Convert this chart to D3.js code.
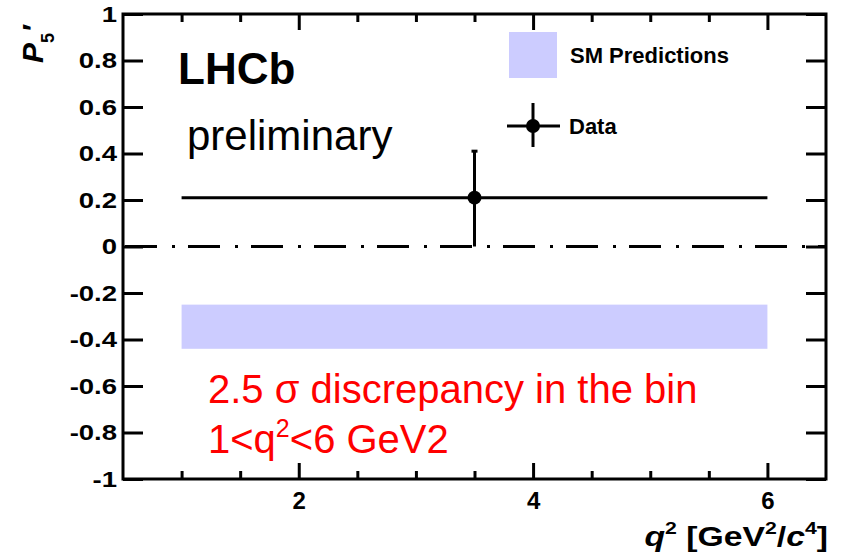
<!DOCTYPE html>
<html>
<head>
<meta charset="utf-8">
<script src="https://cdn.jsdelivr.net/npm/d3@7"></script>
<style>
  html, body { margin: 0; padding: 0; background: #fff; }
  svg { display: block; font-family: "Liberation Sans", Arial, Helvetica, sans-serif; }
</style>
</head>
<body>
<svg id="chart" width="841" height="557"></svg>
<script>
// P5' measurement in the 1 < q^2 < 6 GeV^2/c^4 bin
const q2Domain = [0.5, 6.5];
const p5Domain = [-1, 1];

const xMajorTicks = [2, 4, 6];
const xMinorTicks = [1, 1.5, 2.5, 3, 3.5, 4.5, 5, 5.5];
const yTicks = [-1, -0.8, -0.6, -0.4, -0.2, 0, 0.2, 0.4, 0.6, 0.8, 1];
const yTickLabels = ["-1", "-0.8", "-0.6", "-0.4", "-0.2", "0", "0.2", "0.4", "0.6", "0.8", "1"];

// measured bin
const binLow = [1];
const binHigh = [6];
const binCenter = [3.5];
const p5Value = [0.21];
const p5ErrUp = [0.20];
const p5ErrDown = [0.21];

// Standard Model band for the same bin
const smLow = [-0.44];
const smHigh = [-0.25];

const svg = d3.select("#chart");
const plotLeft = 123, plotRight = 826, plotTop = 14, plotBottom = 479;

const x = d3.scaleLinear().domain(q2Domain).range([plotLeft, plotRight]);
const y = d3.scaleLinear().domain(p5Domain).range([plotBottom, plotTop]);

// SM prediction band
svg.selectAll("rect.sm").data(smLow).enter().append("rect")
  .attr("class", "sm")
  .attr("x", (d, i) => x(binLow[i]))
  .attr("width", (d, i) => x(binHigh[i]) - x(binLow[i]))
  .attr("y", (d, i) => y(smHigh[i]))
  .attr("height", (d, i) => y(d) - y(smHigh[i]))
  .attr("fill", "#ccccff");

// zero line, dash-dot
svg.append("line")
  .attr("x1", x(q2Domain[0])).attr("x2", x(q2Domain[1]))
  .attr("y1", y(0)).attr("y2", y(0))
  .attr("stroke", "#000").attr("stroke-width", 3)
  .attr("stroke-dasharray", "32,15,3,13")
  .attr("stroke-dashoffset", 61);

// data point with horizontal bin width and vertical errors
const pts = svg.append("g");
p5Value.forEach((v, i) => {
  pts.append("line")
    .attr("x1", x(binLow[i])).attr("x2", x(binHigh[i]))
    .attr("y1", y(v)).attr("y2", y(v))
    .attr("stroke", "#000").attr("stroke-width", 3);
  pts.append("line")
    .attr("x1", x(binCenter[i])).attr("x2", x(binCenter[i]))
    .attr("y1", y(v + p5ErrUp[i])).attr("y2", y(v - p5ErrDown[i]))
    .attr("stroke", "#000").attr("stroke-width", 3);
  pts.append("line")
    .attr("x1", x(binCenter[i]) - 3).attr("x2", x(binCenter[i]) + 3)
    .attr("y1", y(v + p5ErrUp[i])).attr("y2", y(v + p5ErrUp[i]))
    .attr("stroke", "#000").attr("stroke-width", 3);
  pts.append("circle")
    .attr("cx", x(binCenter[i])).attr("cy", y(v)).attr("r", 7)
    .attr("fill", "#000");
});

// axes; the y tick labels use a horizontally widened bold face
const yLabelStretch = 1.25;
const yAxisL = d3.axisLeft(y).tickValues(yTicks)
  .tickFormat((d, i) => yTickLabels[i]).tickSizeInner(-20).tickSizeOuter(0).tickPadding(6);
svg.append("g").attr("transform", `translate(${plotLeft},0)`).call(yAxisL)
  .call(g => g.select(".domain").remove())
  .call(g => g.selectAll("line").attr("stroke-width", 3))
  .call(g => g.selectAll("text")
    .attr("font-size", 22).attr("font-weight", "bold").attr("fill", "#000")
    .attr("x", -6 / yLabelStretch)
    .attr("transform", `scale(${yLabelStretch},1)`));

const yAxisR = d3.axisRight(y).tickValues(yTicks).tickFormat("")
  .tickSizeInner(-20).tickSizeOuter(0);
svg.append("g").attr("transform", `translate(${plotRight},0)`).call(yAxisR)
  .call(g => g.select(".domain").remove())
  .call(g => g.selectAll("line").attr("stroke-width", 3));

const xAxisB = d3.axisBottom(x).tickValues(xMajorTicks).tickFormat(d3.format("d"))
  .tickSizeInner(-16).tickSizeOuter(0).tickPadding(13);
svg.append("g").attr("transform", `translate(0,${plotBottom})`).call(xAxisB)
  .call(g => g.select(".domain").remove())
  .call(g => g.selectAll("line").attr("stroke-width", 3))
  .call(g => g.selectAll("text").attr("font-size", 24).attr("font-weight", "bold").attr("fill", "#000"));

const xAxisBMinor = d3.axisBottom(x).tickValues(xMinorTicks).tickFormat("")
  .tickSizeInner(-8).tickSizeOuter(0);
svg.append("g").attr("transform", `translate(0,${plotBottom})`).call(xAxisBMinor)
  .call(g => g.select(".domain").remove())
  .call(g => g.selectAll("line").attr("stroke-width", 3));

const xAxisT = d3.axisTop(x).tickValues(xMajorTicks).tickFormat("")
  .tickSizeInner(-16).tickSizeOuter(0);
svg.append("g").attr("transform", `translate(0,${plotTop})`).call(xAxisT)
  .call(g => g.select(".domain").remove())
  .call(g => g.selectAll("line").attr("stroke-width", 3));

const xAxisTMinor = d3.axisTop(x).tickValues(xMinorTicks).tickFormat("")
  .tickSizeInner(-8).tickSizeOuter(0);
svg.append("g").attr("transform", `translate(0,${plotTop})`).call(xAxisTMinor)
  .call(g => g.select(".domain").remove())
  .call(g => g.selectAll("line").attr("stroke-width", 3));

// frame
svg.append("rect")
  .attr("x", plotLeft).attr("y", plotTop)
  .attr("width", plotRight - plotLeft).attr("height", plotBottom - plotTop)
  .attr("fill", "none").attr("stroke", "#000").attr("stroke-width", 3);

// axis titles
const xt = svg.append("text")
  .attr("transform", "translate(828,546) scale(1.25,1)")
  .attr("text-anchor", "end")
  .attr("font-size", 27).attr("font-weight", "bold").attr("fill", "#000");
xt.append("tspan").attr("font-style", "italic").text("q");
xt.append("tspan").attr("font-size", 17).attr("dy", -12).text("2");
xt.append("tspan").attr("dy", 12).text(" [GeV");
xt.append("tspan").attr("font-size", 17).attr("dy", -12).text("2");
xt.append("tspan").attr("dy", 12).text("/");
xt.append("tspan").attr("font-style", "italic").text("c");
xt.append("tspan").attr("font-size", 17).attr("dy", -12).text("4");
xt.append("tspan").attr("dy", 12).text("]");

const yt = svg.append("text")
  .attr("transform", "translate(43,63) rotate(-90)")
  .attr("font-size", 30).attr("font-weight", "bold").attr("fill", "#000");
yt.append("tspan").attr("font-style", "italic").text("P");
yt.append("tspan").attr("font-size", 18).attr("dy", 11).text("5");
yt.append("tspan").attr("dy", -11).attr("dx", 2).text("′");

// experiment labels
svg.append("text").attr("x", 178).attr("y", 84)
  .attr("font-size", 44).attr("font-weight", "bold").attr("fill", "#000").text("LHCb");
svg.append("text").attr("x", 187).attr("y", 150)
  .attr("font-size", 42).attr("fill", "#000").text("preliminary");

// legend
const legend = svg.append("g");
legend.append("rect").attr("x", 509).attr("y", 32).attr("width", 48).attr("height", 46)
  .attr("fill", "#ccccff");
legend.append("text").attr("x", 570).attr("y", 63)
  .attr("font-size", 22).attr("font-weight", "bold").attr("fill", "#000").text("SM Predictions");
legend.append("line").attr("x1", 507).attr("x2", 560).attr("y1", 126).attr("y2", 126)
  .attr("stroke", "#000").attr("stroke-width", 3);
legend.append("line").attr("x1", 533).attr("x2", 533).attr("y1", 103).attr("y2", 147)
  .attr("stroke", "#000").attr("stroke-width", 3);
legend.append("circle").attr("cx", 533).attr("cy", 126).attr("r", 7).attr("fill", "#000");
legend.append("text").attr("x", 569).attr("y", 134)
  .attr("font-size", 22).attr("font-weight", "bold").attr("fill", "#000").text("Data");

// annotation
const note = svg.append("g").attr("fill", "#ff0000").attr("font-size", 40);
note.append("text").attr("x", 208).attr("y", 403).text("2.5 σ discrepancy in the bin");
const n2 = note.append("text").attr("x", 208).attr("y", 453);
n2.append("tspan").text("1<q");
n2.append("tspan").attr("font-size", 25).attr("dy", -16).text("2");
n2.append("tspan").attr("dy", 16).text("<6 GeV2");
</script>
</body>
</html>
